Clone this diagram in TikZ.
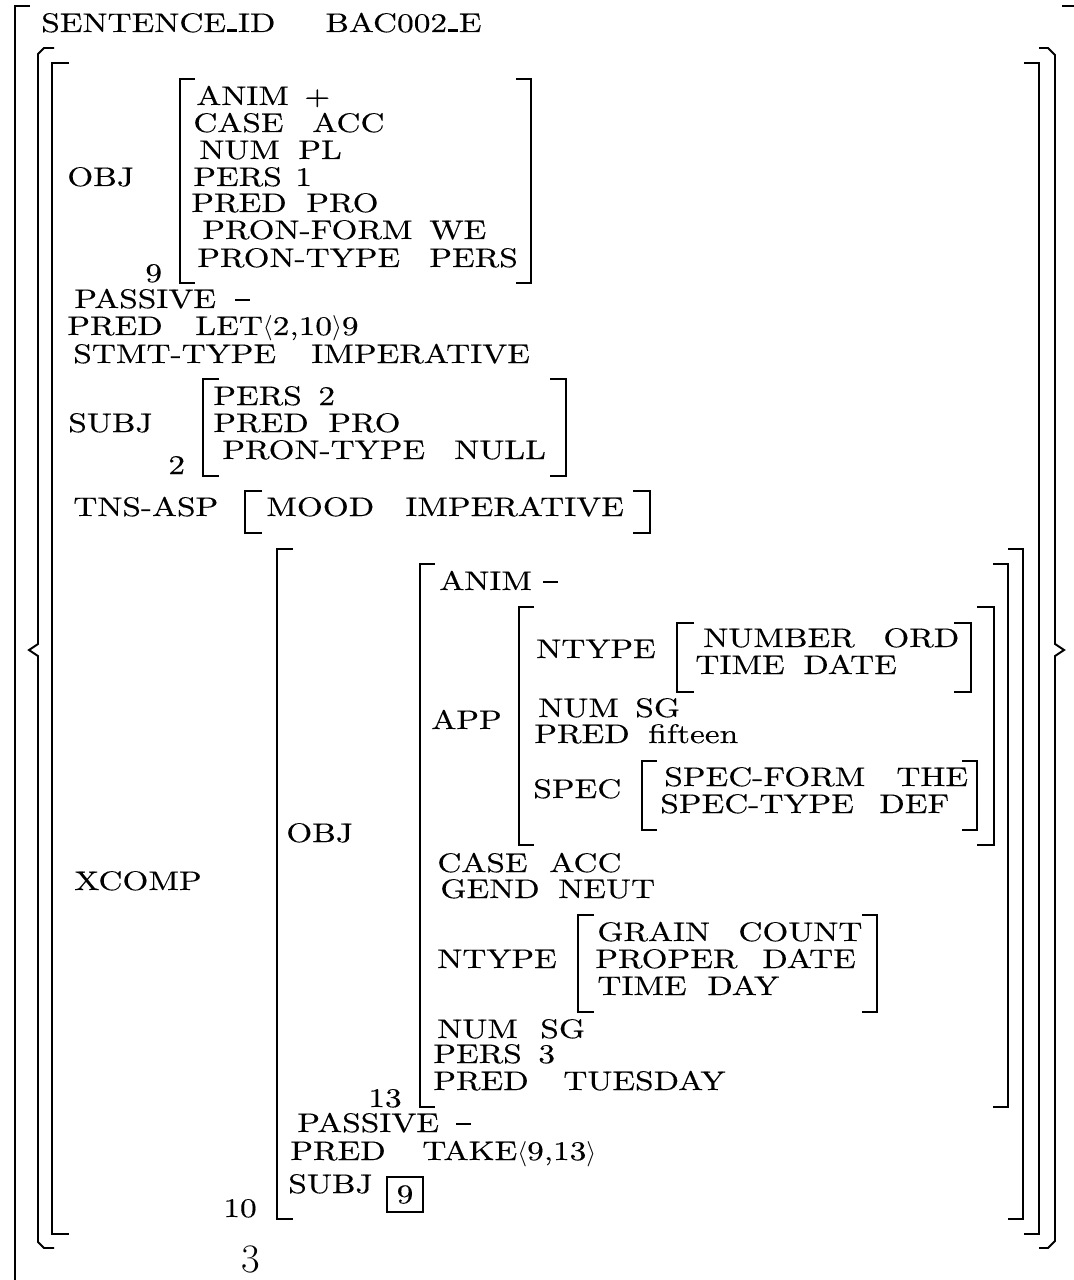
\documentclass[tikz,border=0pt]{standalone}
\usepackage{fontspec}
\usepackage{tikz}
\newfontfamily\avmfont{lmroman10-regular.otf}[FakeStretch=1.24,FakeBold=0.3]
\newcommand{\avm}{\avmfont\fontsize{15.3}{17}\selectfont}
\newcommand{\lfgus}{\kern.05em\rule{.34em}{.1em}\kern.05em}
\newcommand{\lfgneg}{\rule[.27em]{.55em}{.065em}}

\begin{document}
\begin{tikzpicture}[
  x=0.02cm, y=-0.02cm,
  every node/.style={font=\avm,inner sep=0pt},
  lab/.style={anchor=base west},
  brk/.style={line width=1.1pt,line join=miter},
  idxbox/.style={draw,line width=0.8pt,minimum width=0.72cm,minimum height=0.70cm}
]
\useasboundingbox (0,0) rectangle (1073,1280);
% outer bracket, brace and top-level bracket
\draw[brk] (30,6) -- (15,6) -- (15,1300);
\draw[brk] (1062,6) -- (1077,6) -- (1077,1300);
\draw[brk] (54,48) -- (44,48) -- (38,54) -- (38,644) -- (29,650) -- (38,656)
  -- (38,1242) -- (44,1248) -- (54,1248);
\draw[brk] (1039,48) -- (1048,48) -- (1055,55) -- (1055,644) -- (1064,650) -- (1055,656)
  -- (1055,1241) -- (1048,1248) -- (1039,1248);
\draw[brk] (69,63) -- (52,63) -- (52,1234) -- (69,1234);
\draw[brk] (1024,63) -- (1039,63) -- (1039,1234) -- (1024,1234);
% header line
\node[lab] (sid)  at (41,32)  {SENTENCE\lfgus ID};
\node[lab] (sidv) at (325,32) {BAC002\lfgus E};
% OBJ 9
\draw[brk] (195,79) -- (180,79) -- (180,283) -- (195,283);
\draw[brk] (516,79) -- (531,79) -- (531,283) -- (516,283);
\node[lab] (obj)    at (67,186)  {OBJ};
\node[lab] (objtag) at (145,282) {9};
\node[lab] (anim)   at (196,105) {ANIM};
\node[lab] (animv)  at (304,105) {+};
\node[lab] (case)   at (193,132) {CASE};
\node[lab] (casev)  at (312,132) {ACC};
\node[lab] (num)    at (199,159) {NUM};
\node[lab] (numv)   at (298,159) {PL};
\node[lab] (pers)   at (193,186) {PERS};
\node[lab] (persv)  at (295,186) {1};
\node[lab] (pred)   at (191,212) {PRED};
\node[lab] (predv)  at (306,212) {PRO};
\node[lab] (pform)  at (202,239) {PRON-FORM};
\node[lab] (pformv) at (429,239) {WE};
\node[lab] (ptype)  at (197,267) {PRON-TYPE};
\node[lab] (ptypev) at (429,267) {PERS};
% main clause
\node[lab] (pass)   at (74,308)  {PASSIVE};
\node[lab] (passv)  at (235,308) {\lfgneg};
\node[lab] (mpred)  at (67,335)  {PRED};
\node[lab] (mpredv) at (195,335) {LET$\langle$2,10$\rangle$9};
\node[lab] (stmt)   at (73,363)  {STMT-TYPE};
\node[lab] (stmtv)  at (311,363) {IMPERATIVE};
% SUBJ 2
\draw[brk] (219,379) -- (203,379) -- (203,476) -- (219,476);
\draw[brk] (550,379) -- (566,379) -- (566,476) -- (550,476);
\node[lab] (subj)    at (68,432)  {SUBJ};
\node[lab] (subjtag) at (168,474) {2};
\node[lab] (spers)   at (213,405) {PERS};
\node[lab] (spersv)  at (318,405) {2};
\node[lab] (spred)   at (213,432) {PRED};
\node[lab] (spredv)  at (328,432) {PRO};
\node[lab] (sptype)  at (222,459) {PRON-TYPE};
\node[lab] (sptypev) at (454,459) {NULL};
% TNS-ASP
\draw[brk] (262,491) -- (245,491) -- (245,533) -- (262,533);
\draw[brk] (633,491) -- (650,491) -- (650,533) -- (633,533);
\node[lab] (tns)   at (73,516)  {TNS-ASP};
\node[lab] (mood)  at (266,516) {MOOD};
\node[lab] (moodv) at (405,516) {IMPERATIVE};
% XCOMP 10
\draw[brk] (293,549) -- (277,549) -- (277,1219) -- (293,1219);
\draw[brk] (1008,549) -- (1023,549) -- (1023,1219) -- (1008,1219);
\node[lab] (xc)    at (74,890)  {XCOMP};
\node[lab] (xctag) at (223,1217) {10};
% OBJ 13
\draw[brk] (435,564) -- (420,564) -- (420,1107) -- (435,1107);
\draw[brk] (993,564) -- (1008,564) -- (1008,1107) -- (993,1107);
\node[lab] (xobj)    at (286,842)  {OBJ};
\node[lab] (xobjtag) at (368,1107) {13};
\node[lab] (xanim)   at (439,590)  {ANIM};
\node[lab] (xanimv)  at (543,590)  {\lfgneg};
% APP
\draw[brk] (534,607) -- (519,607) -- (519,845) -- (534,845);
\draw[brk] (977,607) -- (994,607) -- (994,845) -- (977,845);
\node[lab] (app) at (431,729) {APP};
\draw[brk] (694,623) -- (677,623) -- (677,692) -- (694,692);
\draw[brk] (954,623) -- (971,623) -- (971,692) -- (954,692);
\node[lab] (ant)    at (536,658) {NTYPE};
\node[lab] (anum)   at (703,647) {NUMBER};
\node[lab] (anumv)  at (883,647) {ORD};
\node[lab] (atime)  at (695,674) {TIME};
\node[lab] (atimev) at (803,674) {DATE};
\node[lab] (anum2)  at (538,717) {NUM};
\node[lab] (anum2v) at (635,717) {SG};
\node[lab] (apred)  at (534,743) {PRED};
\node[lab] (apredv) at (648,743) {fifteen};
\draw[brk] (657,761) -- (642,761) -- (642,830) -- (657,830);
\draw[brk] (962,761) -- (977,761) -- (977,830) -- (962,830);
\node[lab] (aspec)  at (533,798) {SPEC};
\node[lab] (sform)  at (664,786) {SPEC-FORM};
\node[lab] (sformv) at (896,786) {THE};
\node[lab] (stype)  at (660,813) {SPEC-TYPE};
\node[lab] (stypev) at (879,813) {DEF};
% rest of OBJ 13
\node[lab] (xcase)  at (437,872) {CASE};
\node[lab] (xcasev) at (549,872) {ACC};
\node[lab] (xgend)  at (440,898) {GEND};
\node[lab] (xgendv) at (558,898) {NEUT};
\draw[brk] (594,915) -- (578,915) -- (578,1012) -- (594,1012);
\draw[brk] (862,915) -- (877,915) -- (877,1012) -- (862,1012);
\node[lab] (xnt)     at (437,968) {NTYPE};
\node[lab] (grain)   at (597,941) {GRAIN};
\node[lab] (grainv)  at (738,941) {COUNT};
\node[lab] (proper)  at (595,968) {PROPER};
\node[lab] (properv) at (762,968) {DATE};
\node[lab] (xtime)   at (597,995) {TIME};
\node[lab] (xtimev)  at (707,995) {DAY};
\node[lab] (xnum)    at (437,1038) {NUM};
\node[lab] (xnumv)   at (540,1038) {SG};
\node[lab] (xpers)   at (433,1063) {PERS};
\node[lab] (xpersv)  at (538,1063) {3};
\node[lab] (xpred)   at (433,1090) {PRED};
\node[lab] (xpredv)  at (563,1090) {TUESDAY};
% rest of XCOMP
\node[lab] (xpass)   at (297,1132) {PASSIVE};
\node[lab] (xpassv)  at (456,1132) {\lfgneg};
\node[lab] (xpred2)  at (290,1160) {PRED};
\node[lab] (xpred2v) at (422,1160) {TAKE$\langle$9,13$\rangle$};
\node[lab] (xsubj)   at (288,1193) {SUBJ};
\node[idxbox] (xsubjv) at (405,1194.5) {9};
% page number
\node[lab,font=\rmfamily\fontsize{23}{26}\selectfont] (pnum) at (241,1272) {3};
\end{tikzpicture}
\end{document}
